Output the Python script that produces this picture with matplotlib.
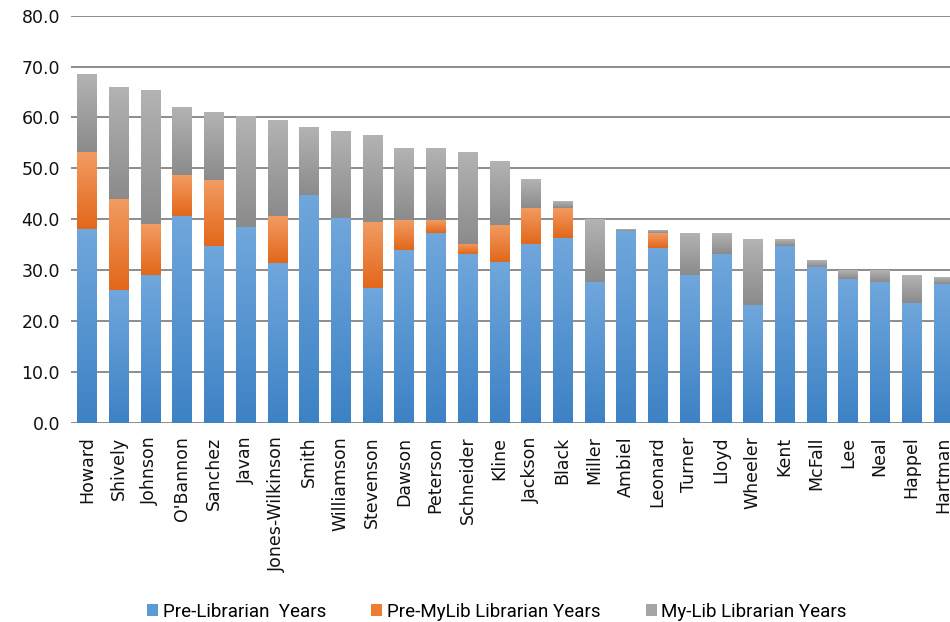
import numpy as np
import matplotlib
matplotlib.use('agg')
import matplotlib.pyplot as plt
from matplotlib.colors import LinearSegmentedColormap
from matplotlib.patches import Patch

names = ['Howard', 'Shively', 'Johnson', "O'Bannon", 'Sanchez', 'Javan',
         'Jones-Wilkinson', 'Smith', 'Williamson', 'Stevenson', 'Dawson',
         'Peterson', 'Schneider', 'Kline', 'Jackson', 'Black', 'Miller',
         'Ambiel', 'Leonard', 'Turner', 'Lloyd', 'Wheeler', 'Kent', 'McFall',
         'Lee', 'Neal', 'Happel', 'Hartman']
pre_lib = [38.1, 26.1, 29.0, 40.6, 34.8, 38.5, 31.4, 44.8, 40.2, 26.5, 34.0,
           37.3, 33.1, 31.5, 35.2, 36.4, 27.7, 37.7, 34.4, 29.0, 33.2, 23.1,
           34.8, 30.6, 28.2, 27.7, 23.5, 27.3]
pre_mylib = [15.1, 17.9, 10.0, 8.0, 12.9, 0.0, 9.2, 0.0, 0.0, 12.9, 5.8,
             2.5, 2.1, 7.4, 7.1, 5.9, 0.0, 0.0, 2.9, 0.0, 0.0, 0.0,
             0.0, 0.0, 0.0, 0.0, 0.0, 0.0]
mylib = [15.3, 22.0, 26.2, 13.3, 13.3, 21.7, 18.8, 13.3, 17.0, 17.0, 14.1,
         14.1, 17.9, 12.5, 5.7, 1.2, 12.3, 0.3, 0.4, 8.2, 4.0, 12.9,
         1.2, 1.2, 1.7, 2.2, 5.4, 1.2]
series = ['Pre-Librarian  Years', 'Pre-MyLib Librarian Years',
          'My-Lib Librarian Years']

# (dark bottom, light top) for each series
shades = [('#3d82c5', '#70a7dc'), ('#e2671a', '#f29c63'), ('#8b8b8b', '#b3b3b3')]
mid = ['#5b9bd5', '#ed7d31', '#a5a5a5']


def shade_bars(ax, bars, dark, light):
    cmap = LinearSegmentedColormap.from_list('g', [dark, light])
    grad = np.linspace(0, 1, 128).reshape(-1, 1)
    for b in bars:
        x, y = b.get_xy()
        w, h = b.get_width(), b.get_height()
        if h <= 0:
            continue
        ax.imshow(grad, extent=[x, x + w, y, y + h], origin='lower',
                  cmap=cmap, aspect='auto', zorder=3, interpolation='bilinear')
        b.set_facecolor('none')


fig = plt.figure(figsize=(9.5, 6.22), dpi=100)
ax = fig.add_axes([71 / 950, 0.3204, 888 / 950, 0.6543])

x = np.arange(len(names))
bottom = np.zeros(len(names))
for vals, (dark, light) in zip([pre_lib, pre_mylib, mylib], shades):
    bars = ax.bar(x, vals, 0.6, bottom=bottom, linewidth=0, zorder=3)
    shade_bars(ax, bars, dark, light)
    bottom += np.array(vals)

ax.set_xlim(-0.5, len(names) - 0.5)
ax.set_ylim(0, 80)
ax.set_yticks(np.arange(0, 81, 10))
ax.set_yticklabels(['%.1f' % v for v in np.arange(0, 81, 10)])
ax.set_xticks(x)
ax.set_xticklabels(names, rotation=90)
ax.yaxis.grid(True, color='#8c8c8c', linewidth=1.4)
ax.set_axisbelow(True)
for s in ax.spines.values():
    s.set_visible(False)
ax.tick_params(axis='both', length=0, labelsize=12.5, labelcolor='#111111')
ax.tick_params(axis='y', pad=8)
ax.tick_params(axis='x', pad=10)

handles = [Patch(facecolor=c) for c in mid]
fig.legend(handles, series, loc='center', bbox_to_anchor=(0.523, 0.016),
           ncol=3, frameon=False, handlelength=0.6, handleheight=0.6,
           handletextpad=0.25, columnspacing=2.4,
           prop={'family': ['Roboto', 'DejaVu Sans'], 'size': 13.5})

plt.savefig('out.png')
plt.close()
